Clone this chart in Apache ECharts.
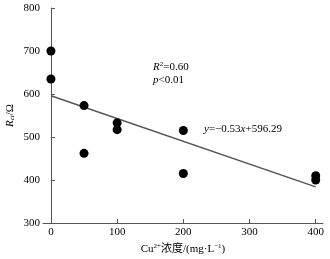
<!DOCTYPE html>
<html>
<head>
<meta charset="utf-8">
<script src="https://cdn.jsdelivr.net/npm/echarts@6/dist/echarts.min.js"></script>
<style>
  * { margin: 0; padding: 0; }
  #chart { width: 330px; height: 259px; background: #fff; }
</style>
</head>
<body>
<div id="chart"></div>
<script>
// Cu2+ concentration vs Rct
const concX = [0, 0, 50, 50, 100, 100, 200, 200, 400, 400];
const rctY = [700, 635, 573, 462, 533, 517, 515, 415, 410, 400];
// fitted line y = -0.53x + 596.29, end points
const fitX = [0, 400];
const fitY = [596, 384];
const xTicks = [0, 100, 200, 300, 400];

const serif = '"Liberation Serif", "Noto Sans CJK SC", serif';

const dom = document.getElementById("chart");
const myChart = echarts.init(dom, null, { renderer: "canvas" });

const option = {
  animation: false,
  grid: { left: 43, top: 8, right: 7, bottom: 36, containLabel: false, outerBoundsMode: "none" },
  xAxis: {
    type: "value",
    min: -12,
    max: 411,
    axisLine: { lineStyle: { color: "#555", width: 1 } },
    axisTick: {
      inside: true,
      length: 4,
      lineStyle: { color: "#555" },
      customValues: xTicks,
    },
    axisLabel: {
      customValues: xTicks,
      color: "#000",
      fontFamily: serif,
      fontSize: 11,
      margin: 4,
    },
    splitLine: { show: false },
    name: "Cu{sup|2+}浓度/(mg·L{sup|−1})",
    nameLocation: "middle",
    nameGap: 19,
    nameTextStyle: {
      color: "#000",
      fontFamily: serif,
      fontSize: 11,
      rich: {
        sup: { fontSize: 7, verticalAlign: "top", fontFamily: serif, color: "#000", padding: [0, 0, 5, 0] },
      },
    },
  },
  yAxis: {
    type: "value",
    min: 300,
    max: 800,
    interval: 100,
    axisLine: { show: true, lineStyle: { color: "#555", width: 1 } },
    axisTick: { show: true, inside: true, length: 4, lineStyle: { color: "#555" } },
    axisLabel: { color: "#000", fontFamily: serif, fontSize: 11, margin: 3 },
    splitLine: { show: false },
    name: "{i|R}{sub|ct}/Ω",
    nameLocation: "middle",
    nameRotate: 90,
    nameGap: 27,
    nameMoveOverlap: false,
    nameTextStyle: {
      color: "#000",
      fontFamily: serif,
      fontSize: 11,
      rich: {
        i: { fontStyle: "italic", fontFamily: serif, fontSize: 11, color: "#000" },
        sub: { fontStyle: "italic", fontSize: 7, fontFamily: serif, color: "#000", padding: [5, 0, 0, 0] },
      },
    },
  },
  series: [
    {
      type: "line",
      data: fitX.map((x, i) => [x, fitY[i]]),
      showSymbol: false,
      lineStyle: { color: "#555", width: 1.5 },
      z: 1,
    },
    {
      type: "scatter",
      data: concX.map((x, i) => [x, rctY[i]]),
      symbolSize: 9,
      itemStyle: { color: "#000", opacity: 1 },
      z: 2,
    },
  ],
  graphic: [
    {
      type: "text",
      left: 153,
      top: 61,
      style: {
        text: "{i|R}{s|2}=0.60\n{i|p}<0.01",
        fontFamily: serif,
        fontSize: 11,
        fill: "#000",
        lineHeight: 13,
        rich: {
          i: { fontStyle: "italic", fontFamily: serif, fontSize: 11 },
          s: { fontSize: 7, fontFamily: serif, verticalAlign: "top", padding: [0, 0, 5, 0] },
        },
      },
    },
    {
      type: "text",
      left: 204,
      top: 124,
      style: {
        text: "{i|y}=−0.53{i|x}+596.29",
        fontFamily: serif,
        fontSize: 11,
        fill: "#000",
        rich: {
          i: { fontStyle: "italic", fontFamily: serif, fontSize: 11 },
        },
      },
    },
  ],
};

myChart.setOption(option);
</script>
</body>
</html>
